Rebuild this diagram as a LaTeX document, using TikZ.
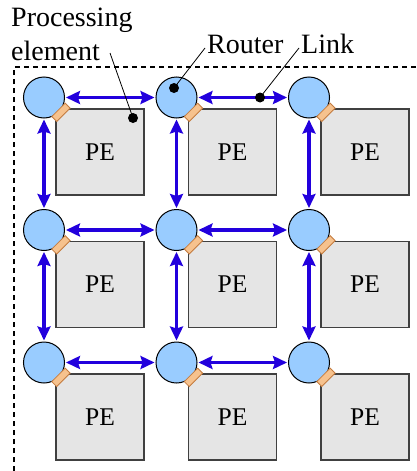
\documentclass[tikz,border=0pt]{standalone}
\usepackage{fontspec}
\setmainfont{Liberation Serif}
\usetikzlibrary{arrows.meta}
\definecolor{linkblue}{RGB}{34,0,221}
\definecolor{routerblue}{RGB}{153,204,255}
\definecolor{pegray}{RGB}{229,229,229}
\definecolor{portfill}{RGB}{246,194,142}
\definecolor{portdraw}{RGB}{196,124,64}
\tikzset{
  router/.style={circle, draw=black, fill=routerblue, minimum size=41pt, inner sep=0pt, line width=1pt},
  pebox/.style={draw=black!75, fill=pegray, minimum width=88pt, minimum height=86pt, inner sep=0pt, line width=1.2pt, font=\fontsize{25.5}{25.5}\selectfont},
  port/.style={draw=portdraw, fill=portfill, minimum width=19pt, minimum height=7pt, inner sep=0pt, line width=0.8pt, rotate=45},
  link/.style={draw=linkblue, line width=3.2pt, shorten <=1pt, shorten >=1pt,
    {Stealth[length=14pt,width=13pt,inset=2pt]}-{Stealth[length=14pt,width=13pt,inset=2pt]}},
  callout/.style={font=\fontsize{28}{33}\selectfont, inner sep=0pt, anchor=base west},
  leader/.style={black, line width=0.8pt},
  frame/.style={black, line width=2.8pt, dash pattern=on 5pt off 4pt}
}
\begin{document}
\begin{tikzpicture}[x=1pt,y=-1pt]
\useasboundingbox (0,0) rectangle (417,471);
% mesh boundary
\draw[frame] (14,471) |- (417,67);
% tiles: PE box, router, port
\foreach \i in {1,2,3} {
  \foreach \j in {1,2,3} {
    \node[pebox] (pe-\i-\j) at ({100+132.5*(\j-1)},{152+132.5*(\i-1)}) {PE};
    \node[router] (r-\i-\j) at ({44+132.5*(\j-1)},{97.5+132.5*(\i-1)}) {};
    \node[port, xshift=1.5pt, yshift=-1.5pt] (p-\i-\j) at (r-\i-\j.south east) {};
  }
}
% links
\foreach \i in {1,2,3} {
  \draw[link] (r-\i-1) -- (r-\i-2);
  \draw[link] (r-\i-2) -- (r-\i-3);
  \draw[link] (r-1-\i) -- (r-2-\i);
  \draw[link] (r-2-\i) -- (r-3-\i);
}
% labels
\node[callout] (lbl-proc) at (11,27) {Processing};
\node[callout] (lbl-elem) at (11,60) {element};
\node[callout] (lbl-router) at (207,53) {Router};
\node[callout] (lbl-link) at (301,53) {Link};
\coordinate (pe-from) at (110,53);
\coordinate (pe-tip) at (133,118);
\coordinate (router-from) at (205,48);
\coordinate (router-tip) at (174,88);
\coordinate (link-from) at (299,48);
\coordinate (link-tip) at (260,97.5);
\draw[leader] (pe-from) -- (pe-tip);
\draw[leader] (router-from) -- (router-tip);
\draw[leader] (link-from) -- (link-tip);
\fill (pe-tip) circle (5);
\fill (router-tip) circle (5);
\fill (link-tip) circle (5);
\end{tikzpicture}
\end{document}
